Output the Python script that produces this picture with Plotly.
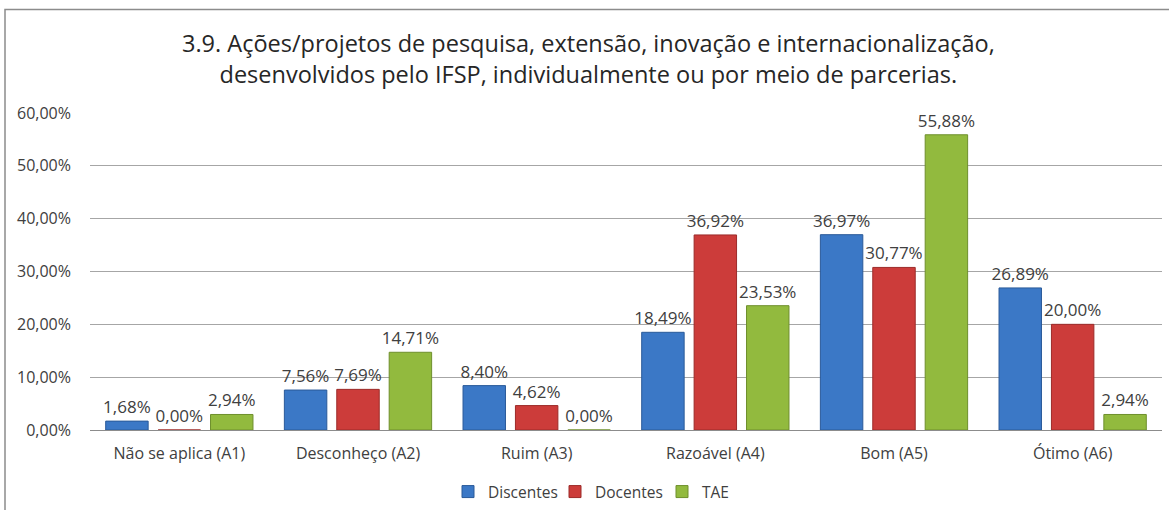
import plotly.graph_objects as go

categories = ["Não se aplica (A1)", "Desconheço (A2)", "Ruim (A3)", "Razoável (A4)", "Bom (A5)", "Ótimo (A6)"]
discentes = [1.68, 7.56, 8.40, 18.49, 36.97, 26.89]
docentes = [0.00, 7.69, 4.62, 36.92, 30.77, 20.00]
tae = [2.94, 14.71, 0.00, 23.53, 55.88, 2.94]
series_names = ["Discentes", "Docentes", "TAE"]
y_ticks = [0, 10, 20, 30, 40, 50, 60]
title_text = ("3.9. Ações/projetos de pesquisa, extensão, inovação e internacionalização,<br>"
              "desenvolvidos pelo IFSP, individualmente ou por meio de parcerias.")

colors = ["#3B78C6", "#CC3C3A", "#92BA3E"]
edges = ["#2A5A99", "#9C2B29", "#6E8F2C"]

def fmt(v):
    return f"{v:.2f}%".replace(".", ",")

W, H = 1169, 510
L, R, T, B = 90, 1162, 113, 430
FONT = "Open Sans"

def px(xp):
    return (xp - L) / (R - L)

def py(yp):
    return (B - yp) / (B - T)

fig = go.Figure()
for name, vals, c, e in zip(series_names, [discentes, docentes, tae], colors, edges):
    fig.add_trace(go.Bar(
        x=categories, y=vals, name=name,
        marker=dict(color=c, line=dict(color=e, width=1)),
        text=[fmt(v) for v in vals], textposition="outside",
        constraintext="none",
        textfont=dict(family=FONT, size=17, color="#404040"),
        cliponaxis=False,
    ))

fig.update_layout(
    width=W, height=H,
    margin=dict(l=L, r=W - R, t=T, b=H - B, autoexpand=False),
    paper_bgcolor="white", plot_bgcolor="white",
    barmode="group", bargap=0.12, bargroupgap=0.19,
    font=dict(family=FONT, color="#404040"),
    showlegend=True,
    legend=dict(orientation="h", x=px(448), xanchor="left",
                yref="container", y=1 - 492 / H, yanchor="middle",
                font=dict(family=FONT, size=15.5, color="#404040"),
                itemwidth=30, entrywidth=62, traceorder="normal"),
    xaxis=dict(showline=True, linecolor="#8C8C8C", linewidth=1, automargin=False,
               tickfont=dict(family=FONT, size=16, color="#404040"),
               ticks="", showgrid=False, ticklabelstandoff=9),
    yaxis=dict(range=[0, 60], tickvals=y_ticks, ticktext=[fmt(v) for v in y_ticks],
               showgrid=True, gridcolor="#A6A6A6", gridwidth=1, automargin=False,
               zeroline=False, ticks="", ticklabelstandoff=18,
               tickfont=dict(family=FONT, size=16, color="#404040")),
    annotations=[dict(text=title_text, xref="paper", yref="paper",
                      x=px(588), y=py(59),
                      xanchor="center", yanchor="middle", showarrow=False,
                      font=dict(family=FONT, size=23.5, color="#262626"))],
    shapes=[dict(type="rect", xref="paper", yref="paper",
                 x0=px(5), x1=px(1180),
                 y0=py(520), y1=py(9.5),
                 line=dict(color="#8C8C8C", width=1.5), layer="below")],
)

fig.write_html("out.html", config={"displayModeBar": False},
               post_script="document.body.style.margin='0';")
